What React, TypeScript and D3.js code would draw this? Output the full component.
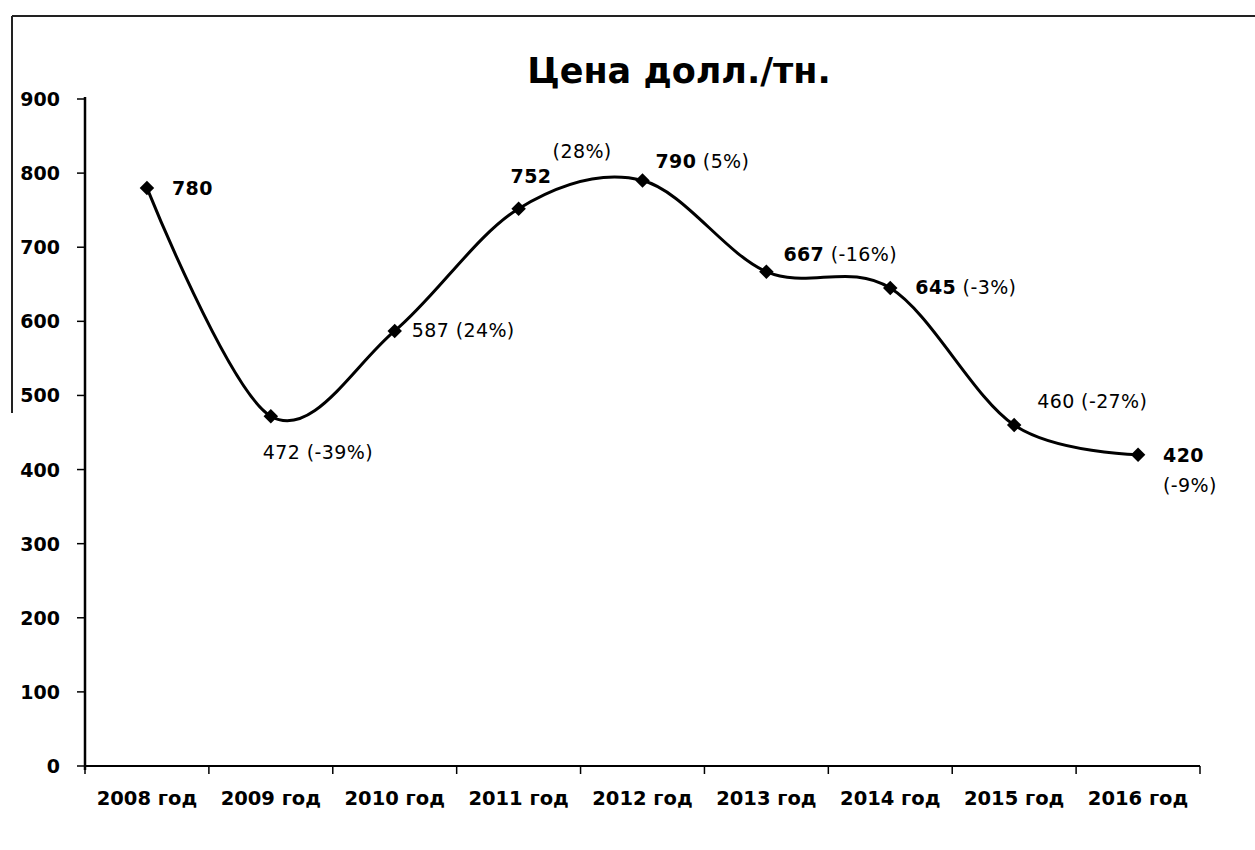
import React from "react";
import * as d3 from "d3";

const years = ["2008 год", "2009 год", "2010 год", "2011 год", "2012 год", "2013 год", "2014 год", "2015 год", "2016 год"];
const prices = [780, 472, 587, 752, 790, 667, 645, 460, 420];
const changes = ["", "(-39%)", "(24%)", "(28%)", "(5%)", "(-16%)", "(-3%)", "(-27%)", "(-9%)"];
const yTicks = [0, 100, 200, 300, 400, 500, 600, 700, 800, 900];
const title = "Цена долл./тн.";

// label placement (layout only): value dx, dy; change on its own line at p (or inline when null)
const placement: { dx: number; dy: number; p: [number, number] | null; bold: boolean }[] = [
  { dx: 25, dy: 7, p: null, bold: true },
  { dx: -8, dy: 43, p: null, bold: false },
  { dx: 17, dy: 6, p: null, bold: false },
  { dx: -8, dy: -26, p: [34, -51], bold: true },
  { dx: 13, dy: -13, p: null, bold: true },
  { dx: 17, dy: -11, p: null, bold: true },
  { dx: 25, dy: 6, p: null, bold: true },
  { dx: 23, dy: -17, p: null, bold: false },
  { dx: 25, dy: 7, p: [25, 37], bold: true },
];

export default function App() {
  const W = 1255, H = 850;
  const x = d3.scaleBand().domain(years).range([85, 1200]).padding(0);
  const y = d3.scaleLinear().domain([0, 900]).range([766, 99]);
  const cx = (i: number) => (x(years[i]) as number) + x.bandwidth() / 2;
  const line = d3
    .line<number>()
    .x((_, i) => cx(i))
    .y((d) => y(d))
    .curve(d3.curveCardinal.tension(0));
  const marker = d3.symbol(d3.symbolSquare, 105)();
  const font = "'DejaVu Sans', Verdana, sans-serif";
  const boundaries = [...years.map((yr) => x(yr) as number), 1200];

  return (
    <svg width={W} height={H} style={{ position: "absolute", left: 0, top: 0, background: "#fff" }} fontFamily={font}>
      <line x1={12} y1={16} x2={1255} y2={16} stroke="#222" strokeWidth={2} />
      <line x1={12} y1={16} x2={12} y2={413} stroke="#222" strokeWidth={2} />
      <text x={679} y={83} textAnchor="middle" fontSize={35} fontWeight="bold" fill="#000">{title}</text>
      {/* y axis */}
      <line x1={85} y1={y(900) - 2} x2={85} y2={y(0) + 4} stroke="#000" strokeWidth={2.5} />
      {yTicks.map((t) => (
        <g key={t}>
          <line x1={77} y1={y(t)} x2={85} y2={y(t)} stroke="#000" strokeWidth={1.5} />
          <text x={60} y={y(t) + 7} textAnchor="end" fontSize={19} fontWeight="bold" fill="#000">{t}</text>
        </g>
      ))}
      {/* x axis */}
      <line x1={85} y1={y(0)} x2={1200} y2={y(0)} stroke="#000" strokeWidth={2} />
      {boundaries.map((b, i) => (
        <line key={i} x1={b} y1={y(0)} x2={b} y2={y(0) + 8} stroke="#000" strokeWidth={1.5} />
      ))}
      {years.map((yr, i) => (
        <text key={yr} x={cx(i)} y={805} textAnchor="middle" fontSize={19.5} fontWeight="bold" fill="#000">{yr}</text>
      ))}
      <path d={line(prices) ?? ""} fill="none" stroke="#000" strokeWidth={3} />
      {prices.map((p, i) => (
        <path key={i} d={marker ?? ""} transform={`translate(${cx(i)},${y(p)}) rotate(45)`} fill="#000" />
      ))}
      {prices.map((p, i) => {
        const pl = placement[i];
        return (
          <g key={"l" + i} fontSize={19} letterSpacing={0.4} fill="#000">
            <text x={cx(i) + pl.dx} y={y(p) + pl.dy}>
              <tspan fontWeight={pl.bold ? "bold" : "normal"}>{p}</tspan>
              {changes[i] && !pl.p && <tspan>{" " + changes[i]}</tspan>}
            </text>
            {changes[i] && pl.p && (
              <text x={cx(i) + pl.p[0]} y={y(p) + pl.p[1]}>{changes[i]}</text>
            )}
          </g>
        );
      })}
    </svg>
  );
}
